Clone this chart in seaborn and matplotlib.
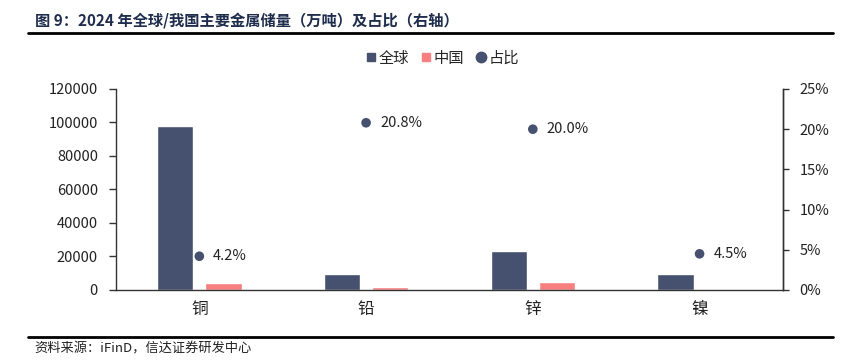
import matplotlib
matplotlib.use("Agg")
import matplotlib.pyplot as plt
import seaborn as sns
import numpy as np
import pandas as pd
from matplotlib.lines import Line2D

categories = ["铜", "铅", "锌", "镍"]
global_reserve = [98000, 9500, 23000, 9500]
china_reserve = [4100, 1980, 4600, 430]
share_pct = [4.2, 20.8, 20.0, 4.5]
left_ticks = [0, 20000, 40000, 60000, 80000, 100000, 120000]
right_ticks = [0, 5, 10, 15, 20, 25]
series_names = ["全球", "中国", "占比"]

navy = "#465170"
pink = "#f77f80"

sns.set_theme(style="white")
plt.rcParams['font.family'] = ['Noto Sans CJK SC', 'DejaVu Sans']
plt.rcParams['axes.unicode_minus'] = False

df = pd.DataFrame({
    "cat": categories * 2,
    "val": global_reserve + china_reserve,
    "series": [series_names[0]] * 4 + [series_names[1]] * 4,
})

fig = plt.figure(figsize=(8.68, 3.64), dpi=100)
ax = fig.add_axes([0.1336, 0.2033, 0.902 - 0.1336, 0.7555 - 0.2033])

sns.barplot(data=df, x="cat", y="val", hue="series", order=categories,
            hue_order=series_names[:2], palette=[navy, pink],
            width=0.58, gap=0.25, ax=ax, legend=False, saturation=1)

ax.set_xlim(-0.5, 3.5)
ax.set_ylim(0, 120000)
ax.set_yticks(left_ticks)
ax.set_yticklabels([str(t) for t in left_ticks], fontsize=10.5, color="#222222")
ax.set_xlabel("")
ax.set_ylabel("")
ax.set_xticks(range(len(categories)))
ax.set_xticklabels(categories, fontsize=12, color="#222222")
ax.tick_params(axis="x", which="major", length=0, pad=8)
ax.set_xticks([0.5, 1.5, 2.5], minor=True)
ax.tick_params(axis="x", which="minor", length=5, width=1, color="#333333", direction="out")
ax.tick_params(axis="y", length=5, width=1, color="#333333", direction="out", pad=8)
ax.spines["top"].set_visible(False)
for s in ["left", "bottom", "right"]:
    ax.spines[s].set_color("#333333")
    ax.spines[s].set_linewidth(1)

ax2 = ax.twinx()
xs = np.arange(len(categories))
sns.scatterplot(x=xs, y=share_pct, ax=ax2, color=navy, s=48, edgecolor="none", zorder=5)
ax2.set_ylim(0, 25)
ax2.set_yticks(right_ticks)
ax2.set_yticklabels([f"{t}%" for t in right_ticks], fontsize=10.5, color="#222222")
ax2.tick_params(axis="y", length=4, width=1, color="#333333", direction="out", pad=8)
ax2.set_xlim(-0.5, 3.5)
for s in ["top", "left", "bottom"]:
    ax2.spines[s].set_visible(False)
ax2.spines["right"].set_color("#333333")
ax2.spines["right"].set_linewidth(1)
for x, v in zip(xs, share_pct):
    ax2.annotate(f"{v:.1f}%", (x, v), xytext=(10, 0), textcoords="offset points",
                 va="center", ha="left", fontsize=10.5, color="#222222")

handles = [
    Line2D([], [], marker="s", linestyle="none", color=navy, markersize=6),
    Line2D([], [], marker="s", linestyle="none", color=pink, markersize=6),
    Line2D([], [], marker="o", linestyle="none", color=navy, markersize=7.5),
]
fig.legend(handles, series_names, loc="center", bbox_to_anchor=(0.508, 0.84), ncol=3,
           frameon=False, fontsize=11, handletextpad=0.0, columnspacing=0.6,
           handlelength=1.0)

fig.text(0.040, 0.945, "图 9：2024 年全球/我国主要金属储量（万吨）及占比（右轴）",
         fontsize=11, fontweight="bold", color="#1f2d4d", ha="left", va="center")
fig.add_artist(Line2D([28 / 868, 833 / 868], [1 - 32.5 / 364, 1 - 32.5 / 364],
                      color="black", linewidth=2))
fig.add_artist(Line2D([28 / 868, 833 / 868], [1 - 337 / 364, 1 - 337 / 364],
                      color="black", linewidth=2))
fig.text(0.040, 1 - 349 / 364, "资料来源：iFinD，信达证券研发中心", fontsize=9.5,
         style="italic", color="#222222", ha="left", va="center")

fig.savefig("out.png", dpi=100)
